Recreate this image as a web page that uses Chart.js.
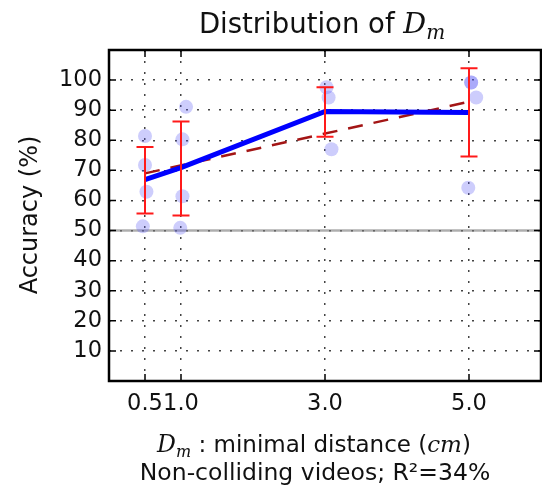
<!DOCTYPE html>
<html>
<head>
<meta charset="utf-8">
<script src="https://cdn.jsdelivr.net/npm/chart.js@4"></script>
<style>
    body { margin: 0; background: #fff; }
    canvas { display: block; }
</style>
</head>
<body>
<canvas id="distChart" width="542" height="490"></canvas>
<script>
// grupos de distancia minima (cm)
const xGroups = [0.5, 1.0, 3.0, 5.0];
const meanAcc = [66.9, 70.9, 89.6, 89.2];
const errLow = [55.7, 55.0, 81.2, 74.6];
const errHigh = [77.8, 86.2, 97.6, 103.9];

// videos individuales (con un poco de jitter en x)
const videoX = [0.50, 0.50, 0.52, 0.47, 1.07, 1.02, 1.02, 0.99, 3.02, 3.05, 3.09, 5.03, 5.03, 5.10, 4.99];
const videoAcc = [81.4, 71.8, 62.9, 51.4, 91.1, 80.3, 61.4, 50.9, 97.6, 94.2, 77.0, 99.2, 99.2, 94.2, 64.2];

// recta de regresion
const trendX = [0.5, 5.0];
const trendY = [69.0, 92.8];

const xTicks = [0.5, 1.0, 3.0, 5.0];
const xTickLabels = ['0.5', '1.0', '3.0', '5.0'];
const yTicks = [10, 20, 30, 40, 50, 60, 70, 80, 90, 100];
const chanceLevel = 50;

const SANS = '"DejaVu Sans", sans-serif';
const SERIF = '"DejaVu Serif", serif';

function toPoints(xs, ys) {
    return xs.map((x, i) => ({ x: x, y: ys[i] }));
}

// dibuja trozos de texto con distintas fuentes en una linea
function drawRuns(ctx, runs, cx, baseline) {
    let total = 0;
    runs.forEach(r => { ctx.font = r.font; total += ctx.measureText(r.text).width; });
    let x = cx - total / 2;
    runs.forEach(r => {
        ctx.font = r.font;
        ctx.fillText(r.text, x, baseline + (r.dy || 0));
        x += ctx.measureText(r.text).width;
    });
}

const decoPlugin = {
    id: 'deco',
    beforeDatasetsDraw(chart) {
        const { ctx, chartArea: a, scales } = chart;
        const y50 = scales.y.getPixelForValue(chanceLevel);
        ctx.save();
        ctx.strokeStyle = 'rgba(120,120,120,0.6)';
        ctx.lineWidth = 2.5;
        ctx.beginPath();
        ctx.moveTo(a.left, y50);
        ctx.lineTo(a.right, y50);
        ctx.stroke();
        ctx.restore();
    },
    afterDatasetsDraw(chart) {
        const { ctx, scales } = chart;
        ctx.save();
        ctx.strokeStyle = '#ff1a1a';
        ctx.lineWidth = 2;
        xGroups.forEach((g, i) => {
            const x = scales.x.getPixelForValue(g);
            const lo = scales.y.getPixelForValue(errLow[i]);
            const hi = scales.y.getPixelForValue(errHigh[i]);
            ctx.beginPath();
            ctx.moveTo(x, lo); ctx.lineTo(x, hi);
            ctx.moveTo(x - 8.5, lo); ctx.lineTo(x + 8.5, lo);
            ctx.moveTo(x - 8.5, hi); ctx.lineTo(x + 8.5, hi);
            ctx.stroke();
        });
        ctx.restore();
    },
    afterDraw(chart) {
        const { ctx, chartArea: a, scales } = chart;
        ctx.save();
        // marco y ticks interiores
        ctx.strokeStyle = '#000';
        ctx.lineWidth = 1.5;
        ctx.beginPath();
        xTicks.forEach(v => {
            const x = scales.x.getPixelForValue(v);
            ctx.moveTo(x, a.bottom); ctx.lineTo(x, a.bottom - 7);
            ctx.moveTo(x, a.top); ctx.lineTo(x, a.top + 7);
        });
        yTicks.forEach(v => {
            const y = scales.y.getPixelForValue(v);
            ctx.moveTo(a.left, y); ctx.lineTo(a.left + 7, y);
            ctx.moveTo(a.right, y); ctx.lineTo(a.right - 7, y);
        });
        ctx.stroke();
        ctx.lineWidth = 2.5;
        ctx.strokeRect(a.left, a.top, a.right - a.left, a.bottom - a.top);

        // textos
        ctx.fillStyle = '#111';
        ctx.textBaseline = 'alphabetic';
        drawRuns(ctx, [
            { text: 'Distribution of ', font: '27.5px ' + SANS },
            { text: 'D', font: 'italic 28.5px ' + SERIF },
            { text: 'm', font: 'italic 20px ' + SERIF, dy: 6 }
        ], 322, 33);
        drawRuns(ctx, [
            { text: 'D', font: 'italic 23.5px ' + SERIF },
            { text: 'm', font: 'italic 16px ' + SERIF, dy: 5 },
            { text: ' : minimal distance (', font: '23px ' + SANS },
            { text: 'cm', font: 'italic 23px ' + SERIF },
            { text: ')', font: '23px ' + SANS }
        ], 314, 452);
        drawRuns(ctx, [
            { text: 'Non-colliding videos; R\u00b2=34%', font: '23.5px ' + SANS }
        ], 315, 480);

        ctx.translate(37, 215);
        ctx.rotate(-Math.PI / 2);
        ctx.textAlign = 'center';
        ctx.font = '24px ' + SANS;
        ctx.fillText('Accuracy (%)', 0, 0);
        ctx.restore();
    }
};

const ctx = document.getElementById('distChart').getContext('2d');
const distChart = new Chart(ctx, {
    type: 'scatter',
    data: {
        datasets: [
            {
                label: 'Mean',
                data: toPoints(xGroups, meanAcc),
                showLine: true,
                borderColor: '#0000ff',
                borderWidth: 5,
                pointRadius: 0,
                order: 1
            },
            {
                label: 'Trend',
                data: toPoints(trendX, trendY),
                showLine: true,
                borderColor: '#a31515',
                borderWidth: 2.5,
                borderDash: [15, 11],
                pointRadius: 0,
                order: 2
            },
            {
                label: 'Videos',
                data: toPoints(videoX, videoAcc),
                backgroundColor: 'rgba(90,90,245,0.3)',
                borderWidth: 0,
                pointRadius: 7,
                order: 3
            }
        ]
    },
    options: {
        responsive: false,
        animation: false,
        layout: { autoPadding: false, padding: { top: 50, left: 0, right: 1, bottom: 0 } },
        plugins: {
            legend: { display: false },
            tooltip: { enabled: false }
        },
        scales: {
            x: {
                type: 'linear',
                min: 0,
                max: 6,
                afterFit: s => { s.height = 109; s.paddingLeft = 0; s.paddingRight = 0; },
                afterBuildTicks: s => { s.ticks = xTicks.map(v => ({ value: v })); },
                grid: { color: '#444', lineWidth: 1.5, drawTicks: false },
                border: { display: false, dash: [2, 9] },
                ticks: {
                    autoSkip: false,
                    maxRotation: 0,
                    padding: 10,
                    color: '#111',
                    font: { family: SANS, size: 22.5 },
                    callback: (v, i) => xTickLabels[i]
                }
            },
            y: {
                type: 'linear',
                min: 0,
                max: 110,
                afterFit: s => { s.width = 109; s.paddingTop = 0; s.paddingBottom = 0; },
                afterBuildTicks: s => { s.ticks = yTicks.map(v => ({ value: v })); },
                grid: { color: '#444', lineWidth: 1.5, drawTicks: false },
                border: { display: false, dash: [2, 9] },
                ticks: {
                    padding: 7,
                    color: '#111',
                    font: { family: SANS, size: 22.5 }
                }
            }
        }
    },
    plugins: [decoPlugin]
});
</script>
</body>
</html>
